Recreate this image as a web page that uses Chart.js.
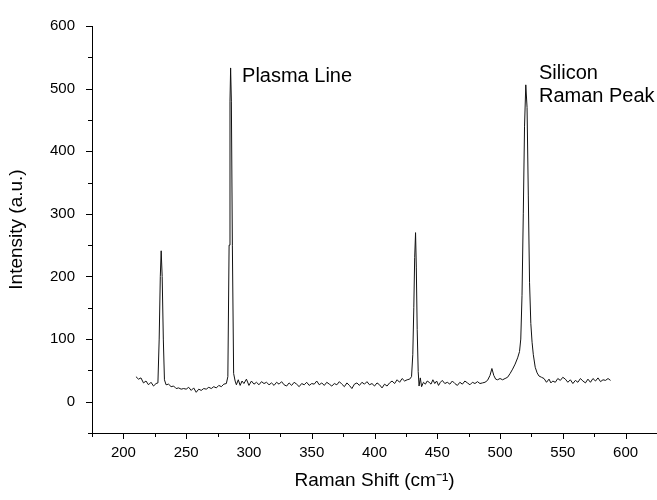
<!DOCTYPE html>
<html>
<head>
<meta charset="utf-8">
<script src="https://cdn.jsdelivr.net/npm/chart.js@4.4.1/dist/chart.umd.min.js"></script>
<style>
  html, body { margin: 0; padding: 0; background: #fff; }
  #wrap { width: 657px; height: 500px; }
</style>
</head>
<body>
<div id="wrap"><canvas id="chart" width="657" height="500"></canvas></div>
<script>
// Raman spectrum
const SHIFT = [
  210, 212, 214, 216, 218, 220, 222, 224, 226,
  227.5, 228.5, 229.4, 230.1, 230.9, 231.8, 232.7,
  234, 236, 238, 240, 242, 244, 246, 248, 250, 252, 254, 256, 258, 260, 262, 264, 266, 268, 270, 272, 274, 276, 278, 280, 282,
  283.2, 284.2, 284.9, 285.4, 286, 286.8, 287.8, 289,
  290, 291.5, 293, 294.5, 296, 298, 300, 302, 304, 306, 308, 310, 312, 314, 316, 318, 320, 322, 324, 326, 328, 330,
  332, 334, 336, 338, 340, 342, 344, 346, 348, 350, 352, 354, 356, 358, 360, 362, 364, 366, 368, 370, 372, 374, 376, 378, 380,
  382, 384, 386, 388, 390, 392, 394, 396, 398, 400, 402, 404, 406, 408, 410, 412, 414, 416, 418, 420, 422, 424, 426, 428,
  429.5, 430.5, 431.3, 432, 432.7, 433.3, 434, 434.8, 435.5, 436.5, 437.5,
  439, 440.5, 442, 443.5, 445, 446.5, 448, 449.5, 451, 452.5, 454, 456, 458, 460, 462, 464, 466, 468, 470, 472, 474, 476, 478, 480,
  482, 484, 486, 488, 490, 492, 493.5, 495, 496.5, 498, 500, 502, 504, 506, 508, 510, 512, 514, 515.5,
  516.5, 517.5, 518.5, 519.5, 520.5, 521.5, 522.5, 523.5, 524.5, 525.5, 526.5, 528, 529.5,
  531, 533, 535, 537, 539, 540.5, 542, 544, 546, 548, 550, 552, 554, 556, 558, 560, 562, 564, 566, 568, 570,
  572, 574, 576, 578, 580, 582, 584, 586, 588
];
const INTENSITY = [
  40, 36, 38, 30, 33, 27, 31, 25, 29,
  30, 100, 200, 241, 200, 100, 35,
  27, 28, 24, 25, 21, 22, 20, 21, 20, 23, 18, 22, 15, 20, 18, 21, 20, 23, 21, 24, 22, 26, 24, 28, 29,
  40, 250, 480, 533, 480, 250, 45, 33,
  27, 35, 26, 33, 29, 36, 26, 33, 28, 31, 27, 32, 29, 31, 27, 30, 26, 31, 28, 32, 27, 25,
  30, 26, 31, 28, 24, 29, 27, 31, 26, 29, 28, 33, 27, 30, 26, 31, 28, 25, 29, 27, 32, 28, 24, 30, 26,
  21, 28, 30, 26, 31, 28, 32, 27, 29, 25, 30, 27, 22, 28, 25, 30, 33, 29, 35, 31, 37, 33, 35, 36,
  40, 75, 150, 230, 270, 215, 115, 48, 25, 38, 24,
  31, 28, 33, 31, 28, 35, 29, 33, 26, 31, 34, 29, 31, 28, 33, 29, 26, 31, 28, 33, 30, 27, 31, 29,
  32, 29, 30, 31, 34, 42, 53, 42, 36, 35, 37, 35, 37, 39, 45, 52, 60, 70, 80,
  100, 170, 300, 440, 506, 470, 330, 190, 125, 95, 75, 55, 46,
  41, 39, 37, 31, 36, 30, 33, 31, 37, 34, 39, 36, 31, 35, 29, 34, 31, 37, 33, 30, 36,
  31, 37, 33, 38, 32, 35, 34, 37, 34
];

const X_MIN = 175, X_MAX = 625;
const Y_MIN = -50, Y_MAX = 600;

// annotations: [text, shift, intensity at baseline]
const NOTES = [
  ['Plasma Line', 294.5, 511],
  ['Silicon', 531, 515],
  ['Raman Peak', 531, 479]
];

const FONT = 'Arial, "Liberation Sans", sans-serif';

// minor/major outward ticks taken from the scales' own tick lists
const axisTicks = {
  id: 'axisTicks',
  afterDraw(chart) {
    const { ctx, chartArea, scales: { x, y } } = chart;
    ctx.save();
    ctx.strokeStyle = '#000';
    ctx.lineWidth = 1;
    ctx.beginPath();
    x.ticks.forEach(t => {
      const px = Math.round(x.getPixelForValue(t.value)) + 0.5;
      const len = t.value % 50 === 0 ? 6 : 4;
      ctx.moveTo(px, chartArea.bottom);
      ctx.lineTo(px, chartArea.bottom + len);
    });
    y.ticks.forEach(t => {
      const py = Math.round(y.getPixelForValue(t.value)) + 0.5;
      const len = t.value % 100 === 0 ? 6 : 4;
      ctx.moveTo(chartArea.left, py);
      ctx.lineTo(chartArea.left - len, py);
    });
    ctx.stroke();

    ctx.fillStyle = '#000';
    ctx.font = '20px ' + FONT;
    ctx.textAlign = 'left';
    ctx.textBaseline = 'alphabetic';
    NOTES.forEach(([txt, sx, iy]) => {
      ctx.fillText(txt, x.getPixelForValue(sx), y.getPixelForValue(iy));
    });
    ctx.restore();
  }
};

new Chart(document.getElementById('chart'), {
  type: 'line',
  data: {
    datasets: [{
      data: SHIFT.map((s, i) => ({ x: s, y: INTENSITY[i] })),
      borderColor: '#111',
      borderWidth: 1,
      pointRadius: 0,
      tension: 0,
      fill: false
    }]
  },
  options: {
    responsive: false,
    animation: false,
    devicePixelRatio: 1,
    layout: { padding: { top: 17, right: 0, bottom: 0, left: 0 } },
    plugins: { legend: { display: false }, tooltip: { enabled: false } },
    scales: {
      x: {
        type: 'linear',
        min: X_MIN,
        max: X_MAX,
        afterFit: s => { s.height = 67; s.paddingLeft = 0; s.paddingRight = 0; },
        grid: { display: false, drawTicks: false },
        border: { display: true, color: '#000', width: 1 },
        ticks: {
          stepSize: 25,
          autoSkip: false,
          maxRotation: 0,
          padding: 11,
          color: '#000',
          font: { family: FONT, size: 15 },
          callback: v => (v % 50 === 0 ? v : '')
        },
        title: {
          display: true,
          text: 'Raman Shift (cm⁻¹)',
          color: '#000',
          font: { family: FONT, size: 19 },
          padding: { top: 0, bottom: 8 }
        }
      },
      y: {
        min: Y_MIN,
        max: Y_MAX,
        afterFit: s => { s.width = 92; },
        grid: { display: false, drawTicks: false },
        border: { display: true, color: '#000', width: 1 },
        ticks: {
          stepSize: 50,
          autoSkip: false,
          padding: 17,
          color: '#000',
          font: { family: FONT, size: 15 },
          callback: v => (v % 100 === 0 && v >= 0 ? v : '')
        },
        title: {
          display: true,
          text: 'Intensity (a.u.)',
          color: '#000',
          font: { family: FONT, size: 19 },
          padding: { top: 5, bottom: 0 }
        }
      }
    }
  },
  plugins: [axisTicks]
});
</script>
</body>
</html>
